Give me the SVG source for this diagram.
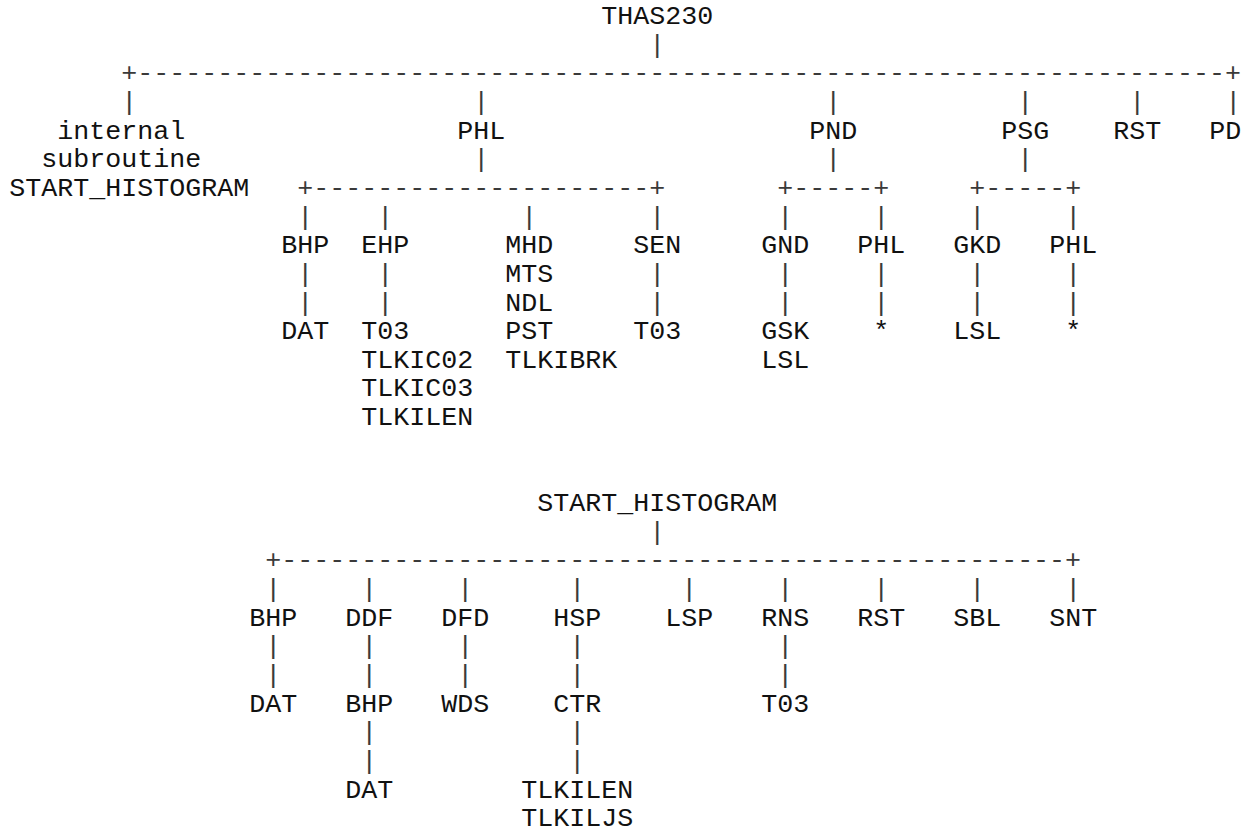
<svg xmlns="http://www.w3.org/2000/svg" width="1254" height="835" viewBox="0 0 1254 835">
<style>
text { font-family: "Liberation Mono", "Courier New", "DejaVu Sans Mono", monospace; font-size: 26.667px; fill: #111; white-space: pre; }
.c { fill: #3a3a3a; }
</style>
<rect width="1254" height="835" fill="#fff"/>
<g id="connectors">
  <text class="c" x="649.3" y="52.65">|</text>
  <text class="c" x="121.3" y="81.3">+--------------------------------------------------------------------+</text>
  <text class="c" x="121.3" y="109.95">|</text>
  <text class="c" x="473.3" y="109.95">|</text>
  <text class="c" x="825.3" y="109.95">|</text>
  <text class="c" x="1017.3" y="109.95">|</text>
  <text class="c" x="1129.3" y="109.95">|</text>
  <text class="c" x="1225.3" y="109.95">|</text>
  <text class="c" x="473.3" y="167.25">|</text>
  <text class="c" x="825.3" y="167.25">|</text>
  <text class="c" x="1017.3" y="167.25">|</text>
  <text class="c" x="297.3" y="195.9">+---------------------+</text>
  <text class="c" x="777.3" y="195.9">+-----+</text>
  <text class="c" x="969.3" y="195.9">+-----+</text>
  <text class="c" x="297.3" y="224.55">|</text>
  <text class="c" x="377.3" y="224.55">|</text>
  <text class="c" x="521.3" y="224.55">|</text>
  <text class="c" x="649.3" y="224.55">|</text>
  <text class="c" x="777.3" y="224.55">|</text>
  <text class="c" x="873.3" y="224.55">|</text>
  <text class="c" x="969.3" y="224.55">|</text>
  <text class="c" x="1065.3" y="224.55">|</text>
  <text class="c" x="297.3" y="281.85">|</text>
  <text class="c" x="377.3" y="281.85">|</text>
  <text class="c" x="649.3" y="281.85">|</text>
  <text class="c" x="777.3" y="281.85">|</text>
  <text class="c" x="873.3" y="281.85">|</text>
  <text class="c" x="969.3" y="281.85">|</text>
  <text class="c" x="1065.3" y="281.85">|</text>
  <text class="c" x="297.3" y="310.5">|</text>
  <text class="c" x="377.3" y="310.5">|</text>
  <text class="c" x="649.3" y="310.5">|</text>
  <text class="c" x="777.3" y="310.5">|</text>
  <text class="c" x="873.3" y="310.5">|</text>
  <text class="c" x="969.3" y="310.5">|</text>
  <text class="c" x="1065.3" y="310.5">|</text>
  <text class="c" x="649.3" y="539.7">|</text>
  <text class="c" x="265.3" y="568.35">+-------------------------------------------------+</text>
  <text class="c" x="265.3" y="597">|</text>
  <text class="c" x="361.3" y="597">|</text>
  <text class="c" x="457.3" y="597">|</text>
  <text class="c" x="569.3" y="597">|</text>
  <text class="c" x="681.3" y="597">|</text>
  <text class="c" x="777.3" y="597">|</text>
  <text class="c" x="873.3" y="597">|</text>
  <text class="c" x="969.3" y="597">|</text>
  <text class="c" x="1065.3" y="597">|</text>
  <text class="c" x="265.3" y="654.3">|</text>
  <text class="c" x="361.3" y="654.3">|</text>
  <text class="c" x="457.3" y="654.3">|</text>
  <text class="c" x="569.3" y="654.3">|</text>
  <text class="c" x="777.3" y="654.3">|</text>
  <text class="c" x="265.3" y="682.95">|</text>
  <text class="c" x="361.3" y="682.95">|</text>
  <text class="c" x="457.3" y="682.95">|</text>
  <text class="c" x="569.3" y="682.95">|</text>
  <text class="c" x="777.3" y="682.95">|</text>
  <text class="c" x="361.3" y="740.25">|</text>
  <text class="c" x="569.3" y="740.25">|</text>
  <text class="c" x="361.3" y="768.9">|</text>
  <text class="c" x="569.3" y="768.9">|</text>
</g>
<g id="tree1">
  <g id="n-thas230"><text x="601.3" y="24">THAS230</text></g>
  <g id="n-internal-start-histogram">
    <text x="57.3" y="138.6">internal</text>
    <text x="41.3" y="167.25">subroutine</text>
    <text x="9.3" y="195.9">START_HISTOGRAM</text>
  </g>
  <g id="n-phl"><text x="457.3" y="138.6">PHL</text></g>
  <g id="n-pnd"><text x="809.3" y="138.6">PND</text></g>
  <g id="n-psg"><text x="1001.3" y="138.6">PSG</text></g>
  <g id="n-rst"><text x="1113.3" y="138.6">RST</text></g>
  <g id="n-pd"><text x="1209.3" y="138.6">PD</text></g>
  <g id="n-phl-bhp"><text x="281.3" y="253.2">BHP</text></g>
  <g id="n-phl-ehp"><text x="361.3" y="253.2">EHP</text></g>
  <g id="n-phl-mhd"><text x="505.3" y="253.2">MHD</text></g>
  <g id="n-phl-mts"><text x="505.3" y="281.85">MTS</text></g>
  <g id="n-phl-ndl"><text x="505.3" y="310.5">NDL</text></g>
  <g id="n-phl-pst"><text x="505.3" y="339.15">PST</text></g>
  <g id="n-phl-tlkibrk"><text x="505.3" y="367.8">TLKIBRK</text></g>
  <g id="n-phl-sen"><text x="633.3" y="253.2">SEN</text></g>
  <g id="n-bhp-dat"><text x="281.3" y="339.15">DAT</text></g>
  <g id="n-ehp-t03"><text x="361.3" y="339.15">T03</text></g>
  <g id="n-ehp-tlkic02"><text x="361.3" y="367.8">TLKIC02</text></g>
  <g id="n-ehp-tlkic03"><text x="361.3" y="396.45">TLKIC03</text></g>
  <g id="n-ehp-tlkilen"><text x="361.3" y="425.1">TLKILEN</text></g>
  <g id="n-sen-t03"><text x="633.3" y="339.15">T03</text></g>
  <g id="n-pnd-gnd"><text x="761.3" y="253.2">GND</text></g>
  <g id="n-pnd-phl"><text x="857.3" y="253.2">PHL</text></g>
  <g id="n-gnd-gsk"><text x="761.3" y="339.15">GSK</text></g>
  <g id="n-gnd-lsl"><text x="761.3" y="367.8">LSL</text></g>
  <g id="n-pnd-phl-star"><text x="873.3" y="339.15">*</text></g>
  <g id="n-psg-gkd"><text x="953.3" y="253.2">GKD</text></g>
  <g id="n-psg-phl"><text x="1049.3" y="253.2">PHL</text></g>
  <g id="n-gkd-lsl"><text x="953.3" y="339.15">LSL</text></g>
  <g id="n-psg-phl-star"><text x="1065.3" y="339.15">*</text></g>
</g>
<g id="tree2">
  <g id="n-start-histogram"><text x="537.3" y="511.05">START_HISTOGRAM</text></g>
  <g id="n-sh-bhp"><text x="249.3" y="625.65">BHP</text></g>
  <g id="n-sh-ddf"><text x="345.3" y="625.65">DDF</text></g>
  <g id="n-sh-dfd"><text x="441.3" y="625.65">DFD</text></g>
  <g id="n-sh-hsp"><text x="553.3" y="625.65">HSP</text></g>
  <g id="n-sh-lsp"><text x="665.3" y="625.65">LSP</text></g>
  <g id="n-sh-rns"><text x="761.3" y="625.65">RNS</text></g>
  <g id="n-sh-rst"><text x="857.3" y="625.65">RST</text></g>
  <g id="n-sh-sbl"><text x="953.3" y="625.65">SBL</text></g>
  <g id="n-sh-snt"><text x="1049.3" y="625.65">SNT</text></g>
  <g id="n-sh-bhp-dat"><text x="249.3" y="711.6">DAT</text></g>
  <g id="n-ddf-bhp"><text x="345.3" y="711.6">BHP</text></g>
  <g id="n-dfd-wds"><text x="441.3" y="711.6">WDS</text></g>
  <g id="n-hsp-ctr"><text x="553.3" y="711.6">CTR</text></g>
  <g id="n-rns-t03"><text x="761.3" y="711.6">T03</text></g>
  <g id="n-ddf-bhp-dat"><text x="345.3" y="797.55">DAT</text></g>
  <g id="n-ctr-tlkilen"><text x="521.3" y="797.55">TLKILEN</text></g>
  <g id="n-ctr-tlkiljs"><text x="521.3" y="826.2">TLKILJS</text></g>
</g>
</svg>
